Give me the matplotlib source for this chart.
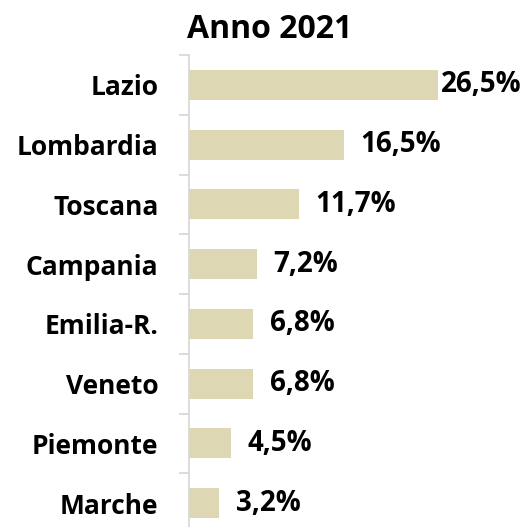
import matplotlib
matplotlib.use("Agg")
import matplotlib.pyplot as plt
import numpy as np

regions = ["Lazio", "Lombardia", "Toscana", "Campania", "Emilia-R.", "Veneto", "Piemonte", "Marche"]
values = [26.5, 16.5, 11.7, 7.2, 6.8, 6.8, 4.5, 3.2]
value_labels = ["26,5%", "16,5%", "11,7%", "7,2%", "6,8%", "6,8%", "4,5%", "3,2%"]
title = "Anno 2021"

plt.rcParams['font.family'] = ['Open Sans', 'DejaVu Sans']
W, H = 529, 527
fig = plt.figure(figsize=(W/100, H/100), dpi=100)
left_px, right_px = 189, 522
top_px, bot_px = 55, 533
ax = fig.add_axes([left_px/W, (H-bot_px)/H, (right_px-left_px)/W, (bot_px-top_px)/H])

xmax = (right_px-left_px) / (249/26.5)
y = np.arange(len(regions))
ax.barh(y, values, height=0.5, color="#DDD8B3")
ax.set_xlim(0, xmax)
ax.set_ylim(len(regions)-0.5, -0.5)

for s in ["top", "right", "bottom"]:
    ax.spines[s].set_visible(False)
ax.spines["left"].set_color("#D9D9D9")
ax.spines["left"].set_linewidth(1.3)
ax.set_xticks([])
ax.set_yticks(y)
ax.set_yticklabels(regions, fontsize=19, fontweight="bold")
ax.tick_params(axis="y", which="major", length=0, pad=22)
ax.set_yticks(np.arange(-0.5, len(regions)+0.5, 1), minor=True)
ax.tick_params(axis="y", which="minor", length=7.5, width=1.3, color="#D9D9D9")

vmax = max(values)
for yi, v, lab in zip(y, values, value_labels):
    off = 2 if v == vmax else 12
    ax.annotate(lab, (v, yi), xytext=(off, 0), textcoords="offset points",
                ha="left", va="center", fontsize=20, fontweight="bold",
                annotation_clip=False)

fig.text(270/W, 1-30/H, title, ha="center", va="center", fontsize=23, fontweight="bold")
fig.savefig("out.png", dpi=100)
